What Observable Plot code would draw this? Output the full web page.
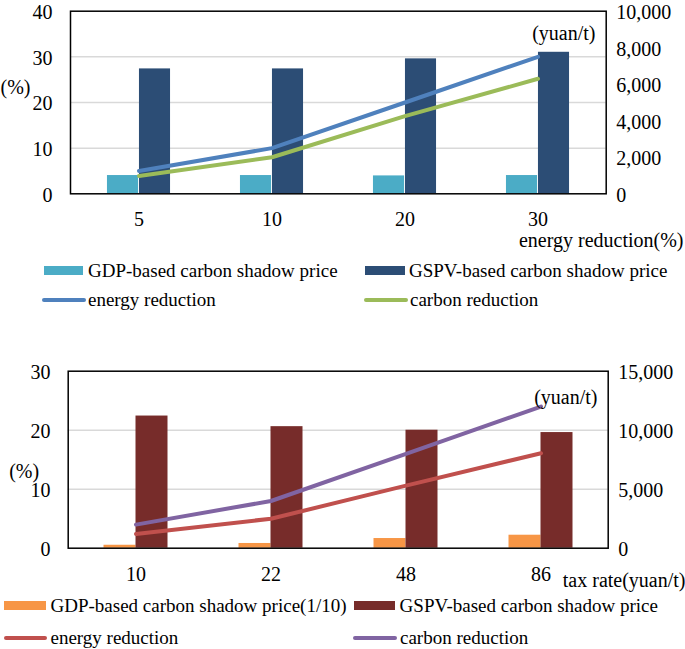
<!DOCTYPE html>
<html>
<head>
<meta charset="utf-8">
<script src="https://cdn.jsdelivr.net/npm/d3@7"></script>
<script src="https://cdn.jsdelivr.net/npm/@observablehq/plot@0.6"></script>
<style>
  html, body { margin: 0; padding: 0; background: #ffffff; }
  #root { position: relative; width: 685px; height: 649px; overflow: hidden; font-family: 'Liberation Serif', 'Times New Roman', serif; color: #000; }
  .chart { position: absolute; left: 0; }
  .leg { position: absolute; font-family: 'Liberation Serif', 'Times New Roman', serif; font-size: 19px; line-height: 22px; white-space: nowrap; }
  .sw { position: absolute; }
</style>
</head>
<body>
<div id="root"></div>
<script>
// ---------- Data: top panel ----------
const topCats = ["5", "10", "20", "30"];
const topGDP = [1000, 1000, 980, 1000];          // yuan/t (right axis)
const topGSPV = [6840, 6840, 7390, 7750];        // yuan/t (right axis)
const topEnergy = [5, 10, 20, 30];               // % (left axis)
const topCarbon = [3.9, 8, 17, 25.2];            // % (left axis)
const topLeftTicks = [0, 10, 20, 30, 40];
const topRightTicks = [0, 2000, 4000, 6000, 8000, 10000];

// ---------- Data: bottom panel ----------
const botCats = ["10", "22", "48", "86"];
const botGDP10 = [250, 400, 820, 1100];          // yuan/t (1/10), right axis
const botGSPV = [11200, 10300, 10000, 9800];     // yuan/t, right axis
const botEnergy = [2.4, 5, 10.6, 16.1];          // %
const botCarbon = [4, 8, 16, 24];                // %
const botLeftTicks = [0, 10, 20, 30];
const botRightTicks = [0, 5000, 10000, 15000];

const SERIF = "'Liberation Serif', 'Times New Roman', serif";

function makeChart(cfg) {
  const W = 685;
  const bw = (W - cfg.ml - cfg.mr) / cfg.cats.length;
  const barW = 32;
  const ratio = cfg.rightMax / cfg.leftMax;
  const rows = (vals) => cfg.cats.map((c, i) => ({cat: c, v: vals[i]}));
  const fmt = d3.format(",");
  return Plot.plot({
    width: W,
    height: cfg.height,
    marginLeft: cfg.ml,
    marginRight: cfg.mr,
    marginTop: cfg.mt,
    marginBottom: cfg.mb,
    style: {fontFamily: SERIF, fontSize: "20px", color: "black", background: "transparent", overflow: "visible"},
    x: {type: "band", domain: cfg.cats, padding: 0, axis: null, label: null},
    y: {domain: [0, cfg.leftMax], axis: null, label: null},
    marks: [
      Plot.gridY(cfg.grid, {stroke: "#d9d9d9", strokeOpacity: 1, strokeWidth: 1.5}),
      Plot.barY(rows(cfg.bar1), {x: "cat", y: d => d.v / ratio, fill: cfg.c1, insetLeft: bw / 2 - barW, insetRight: bw / 2}),
      Plot.barY(rows(cfg.bar2), {x: "cat", y: d => d.v / ratio, fill: cfg.c2, insetLeft: bw / 2, insetRight: bw / 2 - barW}),
      Plot.line(rows(cfg.line1), {x: "cat", y: "v", stroke: cfg.c3, strokeWidth: 4, strokeLinecap: "round", strokeLinejoin: "round"}),
      Plot.line(rows(cfg.line2), {x: "cat", y: "v", stroke: cfg.c4, strokeWidth: 4, strokeLinecap: "round", strokeLinejoin: "round"}),
      Plot.frame({stroke: "black", strokeWidth: 1.5}),
      Plot.axisY(cfg.leftTicks, {anchor: "left", label: null, tickSize: 0, tickPadding: cfg.lpad, dy: 1.5, fontSize: 20}),
      Plot.axisY(cfg.rightTicks.map(t => t / ratio), {anchor: "right", label: null, tickSize: 0, tickPadding: 10, dy: 1.5, fontSize: 20,
        tickFormat: d => fmt(Math.round(d * ratio))}),
      Plot.axisX({anchor: "bottom", label: null, tickSize: 0, tickPadding: cfg.xpad, fontSize: 20}),
      Plot.text(["(%)"], {frameAnchor: "top-left", textAnchor: "start", lineAnchor: "middle", dx: cfg.pctDx, dy: cfg.pctDy, fontSize: 20}),
      Plot.text(["(yuan/t)"], {frameAnchor: "top-right", textAnchor: "end", lineAnchor: "middle", dx: -10.7, dy: cfg.yuanDy, fontSize: 20}),
      Plot.text([cfg.xTitle], {frameAnchor: "bottom-right", textAnchor: "end", lineAnchor: "middle", dx: 77.3, dy: cfg.xTitleDy, fontSize: 20})
    ]
  });
}

const root = document.getElementById("root");

const top1 = makeChart({
  height: 250, ml: 70, mr: 79.3, mt: 10.7, mb: 56.7,
  cats: topCats, leftMax: 40, rightMax: 10000,
  grid: [10, 20, 30], leftTicks: topLeftTicks, rightTicks: topRightTicks,
  bar1: topGDP, bar2: topGSPV, line1: topEnergy, line2: topCarbon,
  c1: "#4bacc6", c2: "#2c4d75", c3: "#4f81bd", c4: "#9bbb59",
  lpad: 18, xpad: 18, pctDx: -70, pctDy: 76, yuanDy: 22.3,
  xTitle: "energy reduction(%)", xTitleDy: 46.7
});
top1.classList.add("chart");
top1.style.top = "0px";
root.appendChild(top1);

const bot1 = makeChart({
  height: 240, ml: 67.7, mr: 77.3, mt: 15.7, mb: 47.3,
  cats: botCats, leftMax: 30, rightMax: 15000,
  grid: [10, 20], leftTicks: botLeftTicks, rightTicks: botRightTicks,
  bar1: botGDP10, bar2: botGSPV, line1: botEnergy, line2: botCarbon,
  c1: "#f79646", c2: "#772c2a", c3: "#c0504d", c4: "#8064a2",
  lpad: 17.7, xpad: 19, pctDx: -59, pctDy: 100, yuanDy: 26.3,
  xTitle: "tax rate(yuan/t)", xTitleDy: 32.3
});
bot1.classList.add("chart");
bot1.style.top = "355px";
root.appendChild(bot1);

// ---------- Legends ----------
function legendItem(kind, color, label, swLeft, swRight, textLeft, cy) {
  const sw = document.createElement("div");
  sw.className = "sw";
  sw.style.left = swLeft + "px";
  sw.style.width = (swRight - swLeft) + "px";
  sw.style.background = color;
  if (kind === "bar") {
    sw.style.height = "9.5px";
    sw.style.top = (cy - 4.75) + "px";
  } else {
    sw.style.height = "4px";
    sw.style.borderRadius = "2px";
    sw.style.top = (cy - 2) + "px";
  }
  root.appendChild(sw);
  const t = document.createElement("div");
  t.className = "leg";
  t.style.fontFamily = SERIF;
  t.style.left = textLeft + "px";
  t.style.top = (cy - 11) + "px";
  t.textContent = label;
  root.appendChild(t);
}

legendItem("bar", "#4bacc6", "GDP-based carbon shadow price", 44, 83, 88, 270.7);
legendItem("bar", "#2c4d75", "GSPV-based carbon shadow price", 364.5, 405, 409, 270.7);
legendItem("line", "#4f81bd", "energy reduction", 42, 86, 88, 300);
legendItem("line", "#9bbb59", "carbon reduction", 364, 408, 410, 300);

legendItem("bar", "#f79646", "GDP-based carbon shadow price(1/10)", 4.4, 46, 50.5, 605.7);
legendItem("bar", "#772c2a", "GSPV-based carbon shadow price", 353.5, 395, 399.6, 605.7);
legendItem("line", "#c0504d", "energy reduction", 4.4, 47.4, 50.5, 637.7);
legendItem("line", "#8064a2", "carbon reduction", 352.6, 396.6, 400, 637.7);
</script>
</body>
</html>
